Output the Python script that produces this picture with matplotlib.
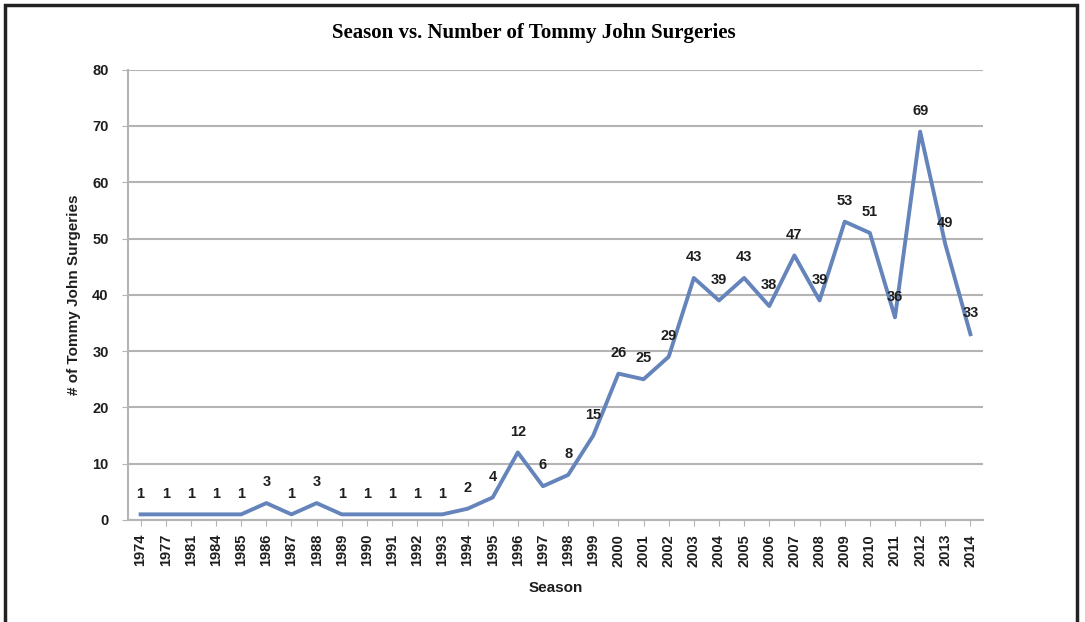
import matplotlib
matplotlib.use('Agg')
import matplotlib.pyplot as plt
from matplotlib.patches import Rectangle

# -- Data --
seasons = ['1974', '1977', '1981', '1984', '1985', '1986', '1987', '1988', '1989',
           '1990', '1991', '1992', '1993', '1994', '1995', '1996', '1997', '1998',
           '1999', '2000', '2001', '2002', '2003', '2004', '2005', '2006', '2007',
           '2008', '2009', '2010', '2011', '2012', '2013', '2014']
surgeries = [1, 1, 1, 1, 1, 3, 1, 3, 1, 1, 1, 1, 1, 2, 4, 12, 6, 8, 15, 26, 25, 29,
             43, 39, 43, 38, 47, 39, 53, 51, 36, 69, 49, 33]
y_ticks = [0, 10, 20, 30, 40, 50, 60, 70, 80]

LINE_COLOR = '#6584bb'
GRID_COLOR = '#b4b4b4'
TEXT = '#1e1e1e'
SANS = 'Liberation Sans'

fig = plt.figure(figsize=(10.85, 6.22), dpi=100)
ax = fig.add_axes([0.118, 0.164, 0.788, 0.724])

x = list(range(len(seasons)))
ax.plot(x, surgeries, color=LINE_COLOR, linewidth=2.8, zorder=3)

for xi, v in zip(x, surgeries):
    ax.annotate(str(v), xy=(xi, v), xytext=(0, 15), textcoords='offset points',
                ha='center', va='center', fontsize=10.5, fontweight='bold',
                family=SANS, color=TEXT, zorder=4)

ax.set_xlim(-0.5, len(seasons) - 0.5)
ax.set_ylim(0, 80)
ax.set_yticks(y_ticks)
ax.set_xticks(x)
ax.set_xticklabels(seasons, rotation=90)
for lab in ax.get_xticklabels() + ax.get_yticklabels():
    lab.set_fontweight('bold')
    lab.set_family(SANS)
    lab.set_fontsize(10.5)
    lab.set_color(TEXT)

ax.yaxis.grid(True, color=GRID_COLOR, linewidth=1.5)
ax.set_axisbelow(True)
ax.tick_params(axis='x', length=4, color=GRID_COLOR, pad=6)
ax.tick_params(axis='y', length=4, color=GRID_COLOR, pad=10)
for side in ['top', 'right']:
    ax.spines[side].set_visible(False)
for side in ['left', 'bottom']:
    ax.spines[side].set_color(GRID_COLOR)
    ax.spines[side].set_linewidth(1.5)

ax.set_xlabel('Season', fontsize=11, fontweight='bold', family=SANS,
              color=TEXT, labelpad=10)
ax.set_ylabel('# of Tommy John Surgeries', fontsize=11, fontweight='bold',
              family=SANS, color=TEXT, labelpad=8)

fig.text(0.492, 0.947, 'Season vs. Number of Tommy John Surgeries',
         ha='center', va='center', fontsize=15, fontweight='bold',
         family='Liberation Serif')

# outer frame (open at bottom)
fig.patches.append(Rectangle((0.005, -0.05), 0.988, 1.042, transform=fig.transFigure,
                             fill=False, edgecolor='#222222', linewidth=2.5))

fig.savefig('out.png', dpi=100, facecolor='white')
plt.close()
